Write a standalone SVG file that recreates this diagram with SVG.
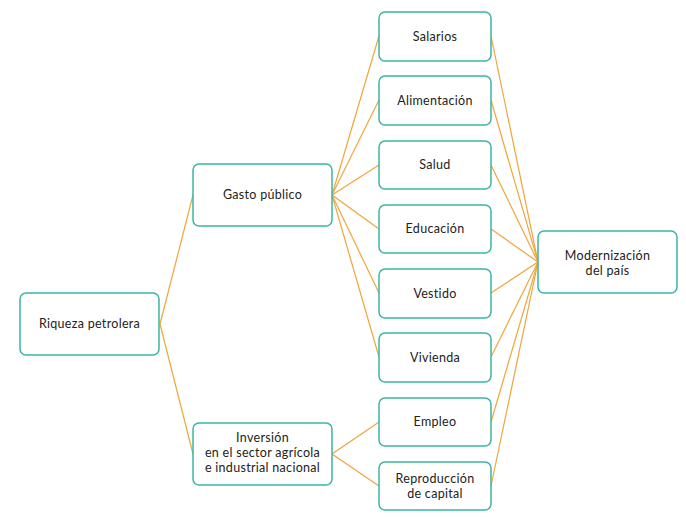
<svg xmlns="http://www.w3.org/2000/svg" width="686" height="517" viewBox="0 0 686 517">
<style>
.n rect{fill:#fff;stroke:#3db5a5;stroke-width:1.5}
.n text{font-family:Lato,"Noto Sans",sans-serif;font-size:12.5px;fill:#222;text-anchor:middle;letter-spacing:0.3px}
#c line{stroke:#f0a53c;stroke-width:1.2}
</style>
<rect width="686" height="517" fill="#fff"/>
<g id="c">
<line x1="160" y1="324" x2="193" y2="195"/>
<line x1="160" y1="324" x2="193" y2="454"/>
<line x1="332" y1="195" x2="379" y2="36"/>
<line x1="332" y1="195" x2="379" y2="100"/>
<line x1="332" y1="195" x2="379" y2="165"/>
<line x1="332" y1="195" x2="379" y2="229"/>
<line x1="332" y1="195" x2="379" y2="293"/>
<line x1="332" y1="195" x2="379" y2="357"/>
<line x1="332" y1="454" x2="379" y2="422"/>
<line x1="332" y1="454" x2="379" y2="486"/>
<line x1="491" y1="36" x2="538" y2="262"/>
<line x1="491" y1="100" x2="538" y2="262"/>
<line x1="491" y1="165" x2="538" y2="262"/>
<line x1="491" y1="229" x2="538" y2="262"/>
<line x1="491" y1="293" x2="538" y2="262"/>
<line x1="491" y1="357" x2="538" y2="262"/>
<line x1="491" y1="422" x2="538" y2="262"/>
<line x1="491" y1="486" x2="538" y2="262"/>
</g>
<g id="riqueza" class="n"><rect x="20" y="293" width="139" height="62" rx="6"/><text x="89.5" y="328">Riqueza petrolera</text></g>
<g id="gasto" class="n"><rect x="193" y="164" width="139" height="62" rx="6"/><text x="262.5" y="199">Gasto público</text></g>
<g id="inversion" class="n"><rect x="193" y="423" width="139" height="62" rx="6"/><text x="262.5" y="442">Inversión</text><text x="262.5" y="457">en el sector agrícola</text><text x="262.5" y="472">e industrial nacional</text></g>
<g id="salarios" class="n"><rect x="379" y="12" width="112" height="49" rx="6"/><text x="435" y="41">Salarios</text></g>
<g id="alimentacion" class="n"><rect x="379" y="76" width="112" height="49" rx="6"/><text x="435" y="105">Alimentación</text></g>
<g id="salud" class="n"><rect x="379" y="141" width="112" height="48" rx="6"/><text x="435" y="169">Salud</text></g>
<g id="educacion" class="n"><rect x="379" y="205" width="112" height="48" rx="6"/><text x="435" y="233">Educación</text></g>
<g id="vestido" class="n"><rect x="379" y="269" width="112" height="49" rx="6"/><text x="435" y="298">Vestido</text></g>
<g id="vivienda" class="n"><rect x="379" y="333" width="112" height="49" rx="6"/><text x="435" y="362">Vivienda</text></g>
<g id="empleo" class="n"><rect x="379" y="398" width="112" height="48" rx="6"/><text x="435" y="426">Empleo</text></g>
<g id="reproduccion" class="n"><rect x="379" y="462" width="112" height="48" rx="6"/><text x="435" y="483">Reproducción</text><text x="435" y="498">de capital</text></g>
<g id="modernizacion" class="n"><rect x="538" y="231" width="139" height="62" rx="6"/><text x="607.5" y="260">Modernización</text><text x="607.5" y="275">del país</text></g>
</svg>
